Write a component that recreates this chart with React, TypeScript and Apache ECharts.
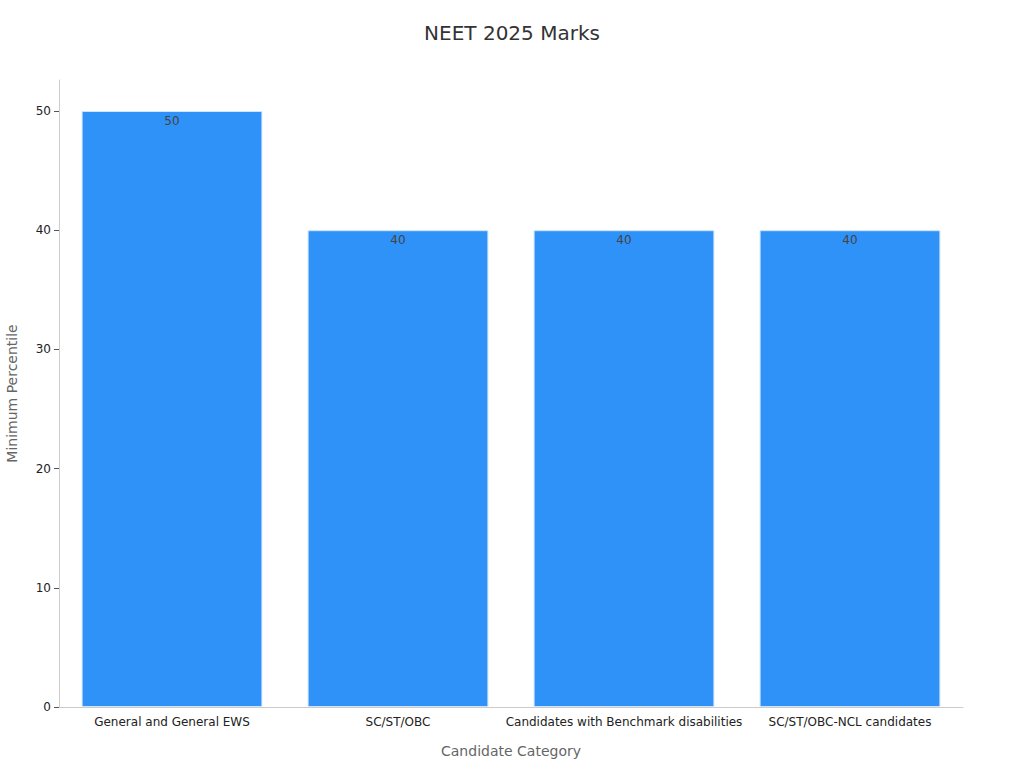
import { useEffect, useRef } from 'react'
import * as echarts from 'echarts'

const categories = [
  'General and General EWS',
  'SC/ST/OBC',
  'Candidates with Benchmark disabilities',
  'SC/ST/OBC-NCL candidates',
]
const percentiles = [50, 40, 40, 40]

const FONT = '"DejaVu Sans", sans-serif'

export default function App() {
  const ref = useRef<HTMLDivElement>(null)

  useEffect(() => {
    if (!ref.current) return
    const chart = echarts.init(ref.current, undefined, { renderer: 'svg' })
    chart.setOption({
      animation: false,
      backgroundColor: '#fff',
      textStyle: { fontFamily: FONT },
      title: {
        text: 'NEET 2025 Marks',
        left: 'center',
        top: 18,
        textStyle: { fontFamily: FONT, fontSize: 20, fontWeight: 'normal', color: '#333' },
      },
      grid: { left: 59, right: 61, top: 80, bottom: 61, containLabel: false, outerBoundsMode: 'none' },
      xAxis: {
        type: 'category',
        data: categories,
        name: 'Candidate Category',
        nameLocation: 'middle',
        nameGap: 37,
        nameTextStyle: { fontFamily: FONT, fontSize: 14, color: '#666' },
        axisLine: { lineStyle: { color: '#ccc' } },
        axisTick: { alignWithLabel: true, length: 5, lineStyle: { color: '#999' } },
        axisLabel: { fontFamily: FONT, fontSize: 12, color: '#222', margin: 9, interval: 0 },
      },
      yAxis: {
        type: 'value',
        min: 0,
        max: 52.6,
        interval: 10,
        name: 'Minimum Percentile',
        nameLocation: 'middle',
        nameGap: 40,
        nameTextStyle: { fontFamily: FONT, fontSize: 14, color: '#666' },
        axisLine: { show: true, lineStyle: { color: '#ccc' } },
        axisTick: { show: true, length: 5, lineStyle: { color: '#555' } },
        axisLabel: { fontFamily: FONT, fontSize: 12, color: '#222', margin: 8, showMaxLabel: false },
        splitLine: { show: false },
      },
      series: [
        {
          type: 'bar',
          data: percentiles,
          barWidth: '80%',
          itemStyle: { color: '#2f92f8', borderColor: '#cfe5fb', borderWidth: 1 },
          label: {
            show: true,
            position: 'insideTop',
            distance: 4,
            fontFamily: FONT,
            fontSize: 12,
            color: '#444',
          },
        },
      ],
    })
    return () => chart.dispose()
  }, [])

  return <div ref={ref} style={{ position: 'fixed', left: 0, top: 0, width: 1024, height: 768 }} />
}
